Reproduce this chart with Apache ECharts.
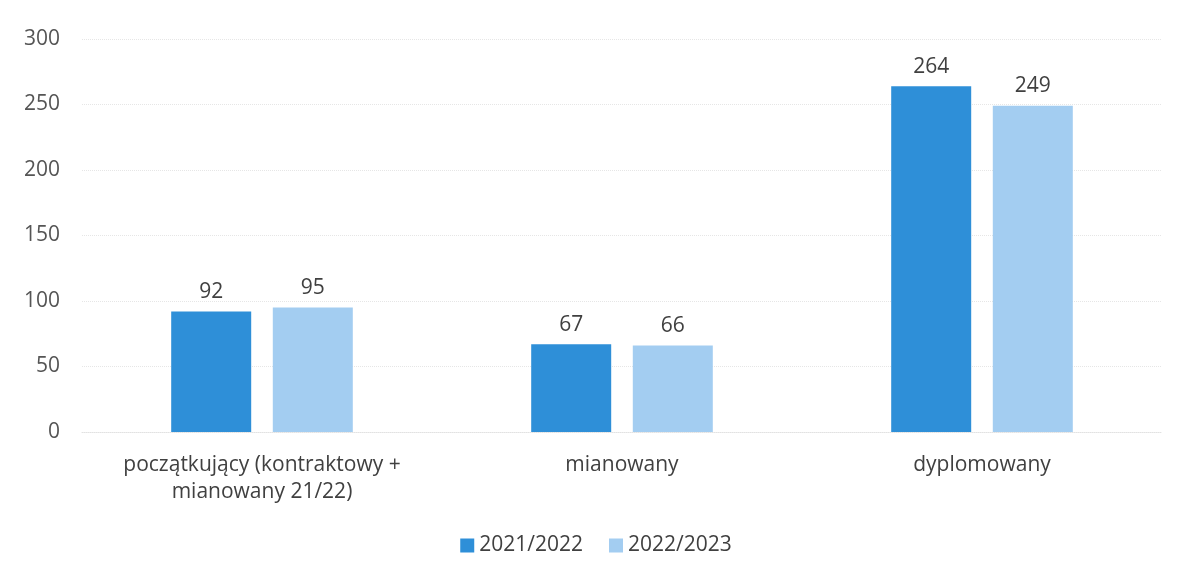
<!DOCTYPE html>
<html>
<head>
<meta charset="utf-8">
<script src="https://cdn.jsdelivr.net/npm/echarts@6/dist/echarts.min.js"></script>
<style>html,body{margin:0;padding:0;background:#fff}#c{width:1192px;height:573px}</style>
</head>
<body>
<div id="c"></div>
<script>
const categories = ['początkujący (kontraktowy +\nmianowany 21/22)', 'mianowany', 'dyplomowany'];
const seriesNames = ['2021/2022', '2022/2023'];
const values2021 = [92, 67, 264];
const values2022 = [95, 66, 249];
const yTicks = { min: 0, max: 300, interval: 50 };

const textColor = '#404040';
const font = '"Open Sans", sans-serif';
const chart = echarts.init(document.getElementById('c'));
const label = { show: true, position: 'top', distance: 9, color: textColor, fontSize: 21, fontFamily: font };
chart.setOption({
  animation: false,
  grid: { left: 82, right: 30, top: 39, bottom: 141 },
  legend: {
    bottom: 12, left: 'center', itemWidth: 14, itemHeight: 14, itemGap: 26,
    icon: 'rect',
    textStyle: { color: textColor, fontSize: 21, fontFamily: font, padding: [0, 0, 0, 0] }
  },
  xAxis: {
    type: 'category', data: categories,
    axisLine: { show: true, lineStyle: { color: '#e2e2e2', type: 'dotted' } },
    axisTick: { show: false },
    axisLabel: { interval: 0, hideOverlap: false, color: textColor, fontSize: 21, fontFamily: font, lineHeight: 27, margin: 20 }
  },
  yAxis: {
    type: 'value', min: yTicks.min, max: yTicks.max, interval: yTicks.interval,
    axisLine: { show: false }, axisTick: { show: false },
    splitLine: { lineStyle: { color: '#e6e6e6', type: 'dotted' } },
    axisLabel: { color: '#555', fontSize: 21, fontFamily: font, margin: 22 }
  },
  series: [
    { name: seriesNames[0], type: 'bar', data: values2021, barWidth: 80, barGap: '27%', itemStyle: { color: '#2e8fd8' }, label },
    { name: seriesNames[1], type: 'bar', data: values2022, barWidth: 80, itemStyle: { color: '#a3cdf1' }, label }
  ]
});
</script>
</body>
</html>
